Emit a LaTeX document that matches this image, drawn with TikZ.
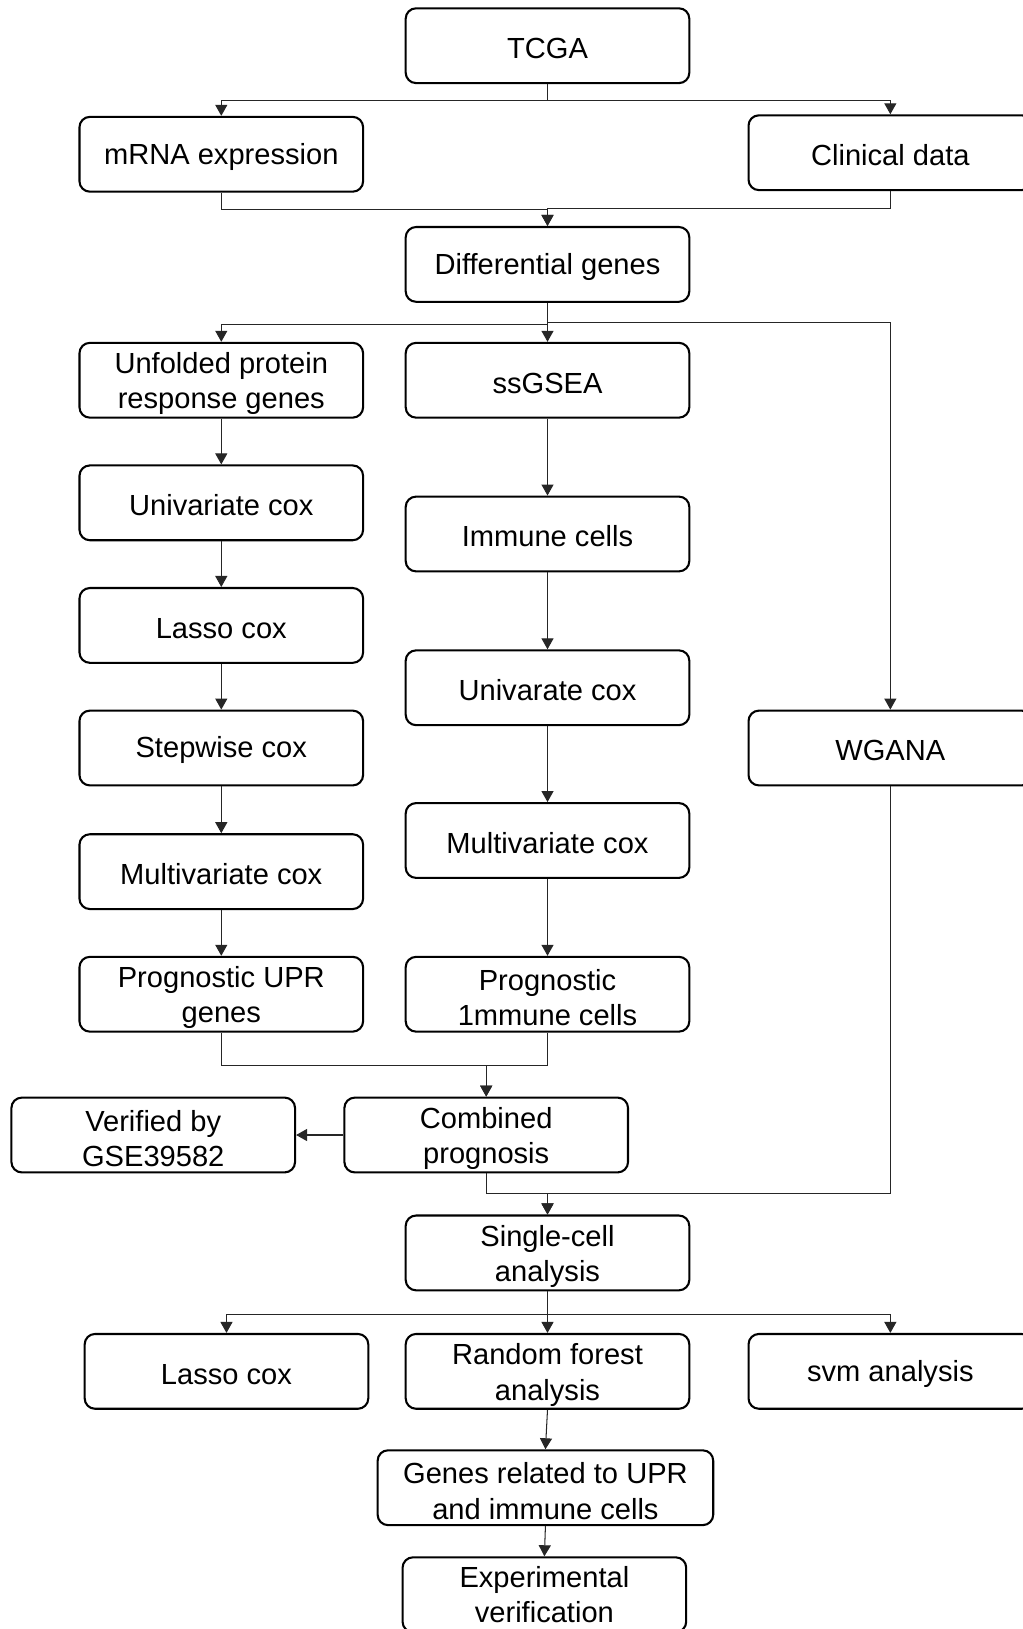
\documentclass[tikz,border=0pt]{standalone}
\usepackage{fontspec}
\setmainfont{Liberation Sans}
\usepackage{tikz}
\tikzset{>=latex}
\usetikzlibrary{arrows.meta}
\newcommand{\boxstrut}{\rule{0pt}{13.5pt}}
\tikzset{
  box/.style={draw, line width=1pt, rounded corners=5pt, minimum width=136.5pt,
    minimum height=36pt, inner sep=0pt, align=center,
    font=\fontsize{14}{17}\selectfont,
    execute at begin node={\rule{0pt}{12.5pt}}},
  link/.style={black!85, line width=0.5pt, -{Triangle[length=5.3pt, width=5.8pt]}}
}

\begin{document}
\begin{tikzpicture}[x=0.5pt, y=-0.5pt]
\useasboundingbox (0,0) rectangle (984,1568);

% Data sources
\node[box] (tcga) at (527,44) {TCGA};
\node[box] (mrna) at (213,148.5) {mRNA expression};
\node[box] (clin) at (857,147) {Clinical data};
\node[box] (diff) at (527,254.5) {Differential genes};

% UPR branch
\node[box] (upr) at (213,366) {\boxstrut Unfolded protein\\response genes};
\node[box] (uni1) at (213,484) {Univariate cox};
\node[box] (lasso1) at (213,602) {Lasso cox};
\node[box] (stepcox) at (213,720) {Stepwise cox};
\node[box] (multi1) at (213,839) {Multivariate cox};
\node[box] (progupr) at (213,957) {\boxstrut Prognostic UPR\\genes};

% Immune branch
\node[box] (ssgsea) at (527,366) {ssGSEA};
\node[box] (imm) at (527,514) {Immune cells};
\node[box] (uni2) at (527,662) {Univarate cox};
\node[box] (multi2) at (527,809) {Multivariate cox};
\node[box] (progimm) at (527,957) {\boxstrut Prognostic\\1mmune cells};

% WGCNA branch
\node[box] (wgana) at (857,720) {WGANA};

% Combined model
\node[box] (comb) at (468,1092.5) {\boxstrut Combined\\prognosis};
\node[box] (verif) at (147.5,1092.5) {\boxstrut Verified by\\GSE39582};
\node[box] (single) at (527,1206) {\boxstrut Single-cell\\analysis};

% Machine learning
\node[box] (lasso2) at (218,1320) {Lasso cox};
\node[box] (rf) at (527,1320) {\boxstrut Random forest\\analysis};
\node[box] (svm) at (857,1320) {svm analysis};
\node[box, minimum width=161.5pt] (genes) at (525,1432) {\boxstrut Genes related to UPR\\and immune cells};
\node[box] (expv) at (524,1535) {Experimental\\verification};

% Connectors
\draw[link] (tcga.south) -- ++(0,16) -| (mrna.north);
\draw[link] (tcga.south) -- ++(0,16) -| (clin.north);
\draw[link] (mrna.south) -- ++(0,16) -| (diff.north);
\draw[link] (clin.south) -- ++(0,17) -| (diff.north);

\draw[link] (diff.south) -- ++(0,21) -| (upr.north);
\draw[link] (diff.south) -- ++(0,21) -| (ssgsea.north);
\draw[link] (diff.south) -- ++(0,19) -| (wgana.north);

\draw[link] (upr) -- (uni1);
\draw[link] (uni1) -- (lasso1);
\draw[link] (lasso1) -- (stepcox);
\draw[link] (stepcox) -- (multi1);
\draw[link] (multi1) -- (progupr);

\draw[link] (ssgsea) -- (imm);
\draw[link] (imm) -- (uni2);
\draw[link] (uni2) -- (multi2);
\draw[link] (multi2) -- (progimm);

\draw[link] (progupr.south) -- ++(0,32) -| (comb.north);
\draw[link] (progimm.south) -- ++(0,32) -| (comb.north);
\draw[link] (comb.west) -- (verif.east);

\draw[link] (comb.south) -- ++(0,19.5) -| (single.north);
\draw[link] (wgana.south) -- ++(0,392) -| (single.north);

\draw[link] (single.south) -- ++(0,22) -| (lasso2.north);
\draw[link] (single.south) -- ++(0,22) -| (rf.north);
\draw[link] (single.south) -- ++(0,22) -| (svm.north);

\draw[link] (rf.south) -- (genes.north);
\draw[link] (genes.south) -- (expv.north);

\end{tikzpicture}
\end{document}
